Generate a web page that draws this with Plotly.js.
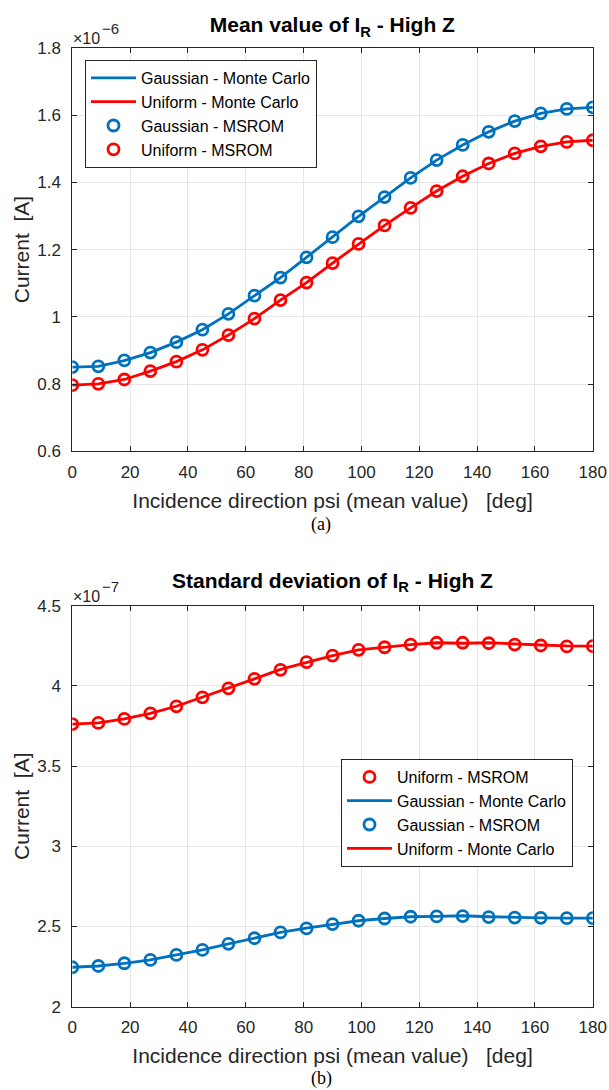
<!DOCTYPE html>
<html>
<head>
<meta charset="utf-8">
<script src="https://cdn.plot.ly/plotly-3.0.1.min.js"></script>
<style>html,body{margin:0;padding:0;background:#fff;}#chart{width:609px;height:1090px;}</style>
</head>
<body>
<div id="chart"></div>
<script>
// Incidence direction psi (deg)
const psi = [0, 9, 18, 27, 36, 45, 54, 63, 72, 81, 90, 99, 108, 117, 126, 135, 144, 153, 162, 171, 180];

// (a) Mean value of I_R, units of 1e-6 A
const meanGaussMC    = [0.851, 0.853, 0.870, 0.894, 0.925, 0.962, 1.009, 1.063, 1.117, 1.177, 1.237, 1.299, 1.356, 1.413, 1.466, 1.511, 1.550, 1.582, 1.605, 1.618, 1.623];
const meanUnifMC     = [0.797, 0.801, 0.814, 0.839, 0.867, 0.902, 0.946, 0.995, 1.050, 1.102, 1.160, 1.217, 1.272, 1.324, 1.374, 1.418, 1.456, 1.486, 1.507, 1.520, 1.525];
const meanGaussMSROM = [0.851, 0.853, 0.871, 0.894, 0.925, 0.962, 1.009, 1.063, 1.117, 1.177, 1.237, 1.299, 1.356, 1.413, 1.466, 1.511, 1.550, 1.582, 1.605, 1.618, 1.623];
const meanUnifMSROM  = [0.797, 0.801, 0.814, 0.839, 0.867, 0.902, 0.946, 0.995, 1.050, 1.102, 1.160, 1.217, 1.272, 1.324, 1.374, 1.418, 1.456, 1.486, 1.507, 1.520, 1.525];

// (b) Standard deviation of I_R, units of 1e-7 A
const stdUnifMSROM  = [3.762, 3.769, 3.794, 3.829, 3.873, 3.929, 3.985, 4.044, 4.100, 4.148, 4.189, 4.225, 4.241, 4.258, 4.269, 4.269, 4.266, 4.258, 4.252, 4.246, 4.248];
const stdGaussMC    = [2.246, 2.254, 2.270, 2.292, 2.323, 2.354, 2.392, 2.427, 2.463, 2.490, 2.515, 2.536, 2.550, 2.561, 2.563, 2.567, 2.561, 2.556, 2.554, 2.552, 2.552];
const stdGaussMSROM = [2.246, 2.254, 2.271, 2.292, 2.323, 2.354, 2.392, 2.427, 2.463, 2.488, 2.515, 2.536, 2.550, 2.561, 2.563, 2.565, 2.559, 2.556, 2.554, 2.552, 2.552];
const stdUnifMC     = [3.762, 3.769, 3.794, 3.829, 3.873, 3.929, 3.985, 4.044, 4.103, 4.148, 4.189, 4.225, 4.241, 4.258, 4.269, 4.266, 4.269, 4.260, 4.255, 4.249, 4.248];

// tick labels
const xTicks = [0, 20, 40, 60, 80, 100, 120, 140, 160, 180];
const xTickText = ['0', '20', '40', '60', '80', '100', '120', '140', '160', '180'];
const meanTicks = [0.6, 0.8, 1.0, 1.2, 1.4, 1.6, 1.8];
const meanTickText = ['0.6', '0.8', '1', '1.2', '1.4', '1.6', '1.8'];
const stdTicks = [2, 2.5, 3, 3.5, 4, 4.5];
const stdTickText = ['2', '2.5', '3', '3.5', '4', '4.5'];

const BLUE = '#0072BD', RED = '#FF0000', AX = '#262626';
const FONT = 'Liberation Sans, Arial, sans-serif';

function lineTrace(y, name, color, xa, ya, leg) {
  return {x: psi, y: y, name: name, mode: 'lines', type: 'scatter', xaxis: xa, yaxis: ya, legend: leg,
          line: {color: color, width: 2.8}};
}
function markerTrace(y, name, color, xa, ya, leg) {
  return {x: psi, y: y, name: name, mode: 'markers', type: 'scatter', xaxis: xa, yaxis: ya, legend: leg,
          marker: {symbol: 'circle-open', size: 11, color: color, line: {color: color, width: 2.8}}};
}

const data = [
  lineTrace(meanGaussMC, 'Gaussian - Monte Carlo', BLUE, 'x', 'y', 'legend'),
  lineTrace(meanUnifMC, 'Uniform - Monte Carlo', RED, 'x', 'y', 'legend'),
  markerTrace(meanGaussMSROM, 'Gaussian - MSROM', BLUE, 'x', 'y', 'legend'),
  markerTrace(meanUnifMSROM, 'Uniform - MSROM', RED, 'x', 'y', 'legend'),
  markerTrace(stdUnifMSROM, 'Uniform - MSROM', RED, 'x2', 'y2', 'legend2'),
  lineTrace(stdGaussMC, 'Gaussian - Monte Carlo', BLUE, 'x2', 'y2', 'legend2'),
  markerTrace(stdGaussMSROM, 'Gaussian - MSROM', BLUE, 'x2', 'y2', 'legend2'),
  lineTrace(stdUnifMC, 'Uniform - Monte Carlo', RED, 'x2', 'y2', 'legend2')
];

function xAxis(anchor) {
  return {domain: [0.1187, 0.9734], range: [0, 180], anchor: anchor,
    tickvals: xTicks, ticktext: xTickText, ticks: 'inside', ticklen: 5, tickcolor: AX,
    showline: true, linecolor: AX, linewidth: 1, mirror: 'ticks',
    showgrid: true, gridcolor: '#e6e6e6', gridwidth: 1, zeroline: false,
    tickfont: {family: FONT, size: 17, color: AX}, ticklabelstandoff: 5,
    title: {text: 'Incidence direction psi (mean value)&nbsp;&nbsp;&nbsp;[deg]', font: {family: FONT, size: 21, color: AX}, standoff: 12}};
}
function yAxis(anchor, dom, rng, tv, tt) {
  return {domain: dom, range: rng, anchor: anchor,
    tickvals: tv, ticktext: tt, ticks: 'inside', ticklen: 5, tickcolor: AX,
    showline: true, linecolor: AX, linewidth: 1, mirror: 'ticks',
    showgrid: true, gridcolor: '#e6e6e6', gridwidth: 1, zeroline: false,
    tickfont: {family: FONT, size: 17, color: AX}, ticklabelstandoff: 7,
    title: {text: 'Current&nbsp;&nbsp;[A]', font: {family: FONT, size: 21, color: AX}, standoff: 1}};
}

const legendStyle = {bgcolor: '#ffffff', bordercolor: AX, borderwidth: 1, xanchor: 'left', yanchor: 'top',
  font: {family: FONT, size: 16, color: '#000000'}, traceorder: 'normal', tracegroupgap: 0, itemwidth: 45};

function ann(text, x, y, size, extra) {
  return Object.assign({text: text, xref: 'paper', yref: 'paper', x: x / 609, y: 1 - y / 1090,
    xanchor: 'left', yanchor: 'middle', showarrow: false, borderpad: 0, font: {family: FONT, size: size, color: AX}}, extra || {});
}

const layout = {
  width: 609, height: 1090,
  margin: {l: 0, r: 0, t: 0, b: 0},
  paper_bgcolor: '#ffffff', plot_bgcolor: '#ffffff',
  showlegend: true,
  title: {text: '<b>Mean value of I<sub>R</sub> - High Z</b>', font: {family: FONT, size: 21, color: '#000000'},
          x: 0.5457, xanchor: 'center', y: 1 - 25 / 1090, yanchor: 'middle', yref: 'container'},
  xaxis: xAxis('y'),
  yaxis: yAxis('x', [0.5858, 0.9562], [0.6, 1.8], meanTicks, meanTickText),
  xaxis2: xAxis('y2'),
  yaxis2: yAxis('x2', [0.0764, 0.4443], [2, 4.5], stdTicks, stdTickText),
  legend: Object.assign({x: 85 / 609, y: 1 - 60 / 1090}, legendStyle),
  legend2: Object.assign({x: 341 / 609, y: 1 - 759 / 1090}, legendStyle),
  annotations: [
    ann('<b>Standard deviation of I<sub>R</sub> - High Z</b>', 332.5, 582, 21, {xanchor: 'center', font: {family: FONT, size: 21, color: '#000000'}}),
    ann('×10', 72, 38, 16),
    ann('−6', 101, 28, 15),
    ann('×10', 72, 596, 16),
    ann('−7', 101, 586, 15),
    ann('(a)', 321, 524, 18, {xanchor: 'center', font: {family: 'Liberation Serif, Times New Roman, serif', size: 18, color: '#000000'}}),
    ann('(b)', 321, 1078, 18, {xanchor: 'center', font: {family: 'Liberation Serif, Times New Roman, serif', size: 18, color: '#000000'}})
  ]
};

Plotly.newPlot('chart', data, layout, {displayModeBar: false, staticPlot: true});
</script>
</body>
</html>
